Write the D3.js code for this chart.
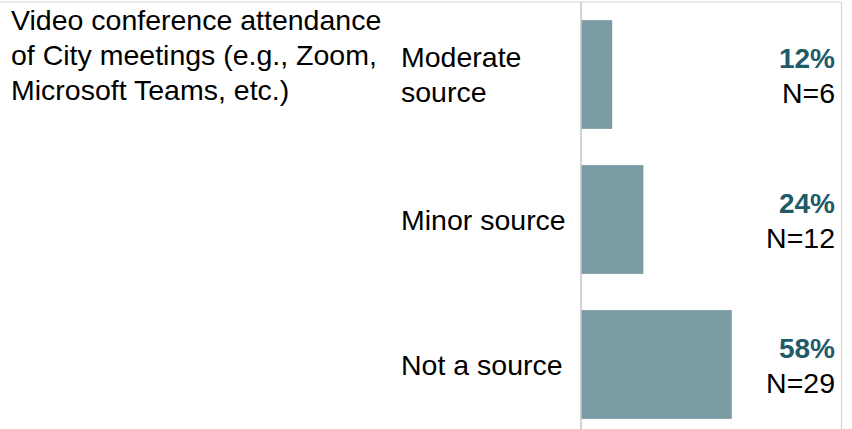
<!DOCTYPE html>
<html>
<head>
<meta charset="utf-8">
<script src="https://cdn.jsdelivr.net/npm/d3@7"></script>
<style>
  html, body { margin: 0; padding: 0; background: #fff; }
  svg text { font-family: "Liberation Sans", Arial, sans-serif; }
</style>
</head>
<body>
<svg id="chart" width="852" height="429"></svg>
<script>
const titleLines = ["Video conference attendance", "of City meetings (e.g., Zoom,", "Microsoft Teams, etc.)"];
const categories = ["Moderate source", "Minor source", "Not a source"];
const categoryLines = [["Moderate", "source"], ["Minor source"], ["Not a source"]];
const percents = [12, 24, 58];
const counts = [6, 12, 29];

const W = 852, H = 429;
const svg = d3.select("#chart");

const x = d3.scaleLinear().domain([0, 100]).range([581, 841]);
const y = d3.scaleBand().domain(categories).range([2, 437]).paddingInner(0.25).paddingOuter(0.125);

// frame lines
svg.append("line").attr("x1", 0).attr("x2", 841.5).attr("y1", 2).attr("y2", 2)
  .attr("stroke", "#d4d4d4").attr("stroke-width", 1.2);
svg.append("line").attr("x1", 841.5).attr("x2", 841.5).attr("y1", 2).attr("y2", H)
  .attr("stroke", "#d4d4d4").attr("stroke-width", 1.2);

// bars
svg.selectAll("rect.bar").data(categories).join("rect")
  .attr("class", "bar")
  .attr("x", x(0))
  .attr("y", d => y(d))
  .attr("width", (d, i) => x(percents[i]) - x(0))
  .attr("height", y.bandwidth())
  .attr("fill", "#7b9ca4");

// axis line
const axis = d3.axisLeft(y).tickSize(0).tickSizeOuter(0).tickFormat("");
const ag = svg.append("g").attr("transform", `translate(${x(0)},0)`).call(axis);
ag.select(".domain").attr("stroke", "#c4c4c4").attr("stroke-width", 1.5)
  .attr("d", `M0,2V${H}`);

// title
const title = svg.append("text").attr("x", 11).attr("font-size", 28.5).attr("fill", "#000");
titleLines.forEach((t, i) => {
  title.append("tspan").attr("x", 11).attr("y", 30 + i * 35).text(t);
});

// category labels
categories.forEach((c, i) => {
  const lines = categoryLines[i];
  const cy = y(c) + y.bandwidth() / 2;
  const first = cy + 10 - (lines.length - 1) * 35.5 / 2;
  const t = svg.append("text").attr("font-size", 28.5).attr("fill", "#000");
  lines.forEach((l, j) => {
    t.append("tspan").attr("x", 401).attr("y", first + j * 35.5).text(l);
  });
});

// value labels
categories.forEach((c, i) => {
  const cy = y(c) + y.bandwidth() / 2;
  svg.append("text").attr("x", 835).attr("y", cy - 7)
    .attr("text-anchor", "end").attr("font-size", 28).attr("font-weight", "bold")
    .attr("fill", "#1f5b69").text(percents[i] + "%");
  svg.append("text").attr("x", 835).attr("y", cy + 28.5)
    .attr("text-anchor", "end").attr("font-size", 28.5)
    .attr("fill", "#000").text("N=" + counts[i]);
});
</script>
</body>
</html>
